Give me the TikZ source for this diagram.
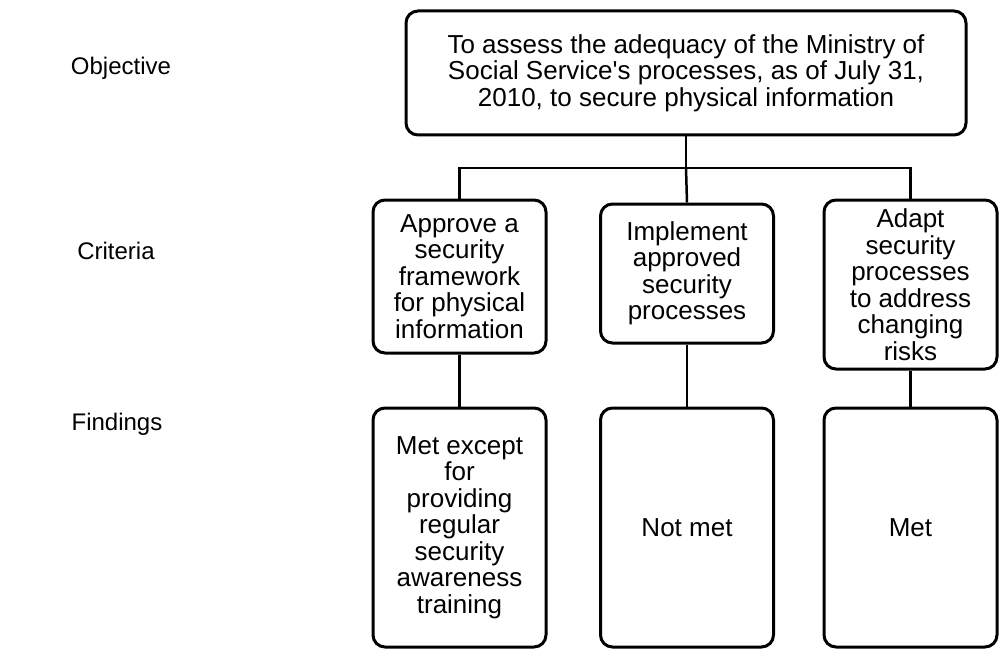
\documentclass[tikz,border=0pt]{standalone}
\usepackage{fontspec}
\setmainfont{Liberation Sans}
\usepackage{tikz}
\tikzset{
  boxnode/.style = {draw=black, line width=3pt, rounded corners=12pt,
    align=center, inner sep=0pt,
    font=\fontsize{26pt}{26.5pt}\selectfont},
  critnode/.style = {boxnode, minimum width=173pt},
  rowlabel/.style = {font=\fontsize{24pt}{26pt}\selectfont},
  link/.style = {line width=2.5pt}
}
\begin{document}
\begin{tikzpicture}[x=1pt,y=-1pt]
  \useasboundingbox (0,0) rectangle (1001,650);
  % row labels
  \node[rowlabel] (lobj) at (121,68) {Objective};
  \node[rowlabel] (lcrit) at (116,251) {Criteria};
  \node[rowlabel] (lfind) at (117,424) {Findings};
  % objective
  \node[boxnode, minimum width=560pt, minimum height=124pt] (obj) at (686,73)
    {To assess the adequacy of the Ministry of\\
     Social Service\textquotesingle s processes, as of July 31,\\
     2010, to secure physical information};
  % criteria
  \node[critnode, minimum height=153pt] (crit1) at (459.5,276.5)
    {Approve a\\ security\\ framework\\ for physical\\ information};
  \node[critnode, minimum height=139pt] (crit2) at (687,273.5)
    {Implement\\ approved\\ security\\ processes};
  \node[critnode, minimum height=169pt] (crit3) at (910.5,284.5)
    {Adapt\\ security\\ processes\\ to address\\ changing\\ risks};
  % findings
  \node[critnode, minimum height=239pt] (find1) at (459.5,527.5)
    {Met except\\ for\\ providing\\ regular\\ security\\ awareness\\ training};
  \node[critnode, minimum height=239pt] (find2) at (687,527.5) {Not met};
  \node[critnode, minimum height=239pt] (find3) at (910.5,527.5) {Met};
  % connectors
  \coordinate (bus) at (686,168);
  \draw[link] (obj.south) -- (bus);
  \draw[link] (crit1.north) |- (bus) -| (crit3.north);
  \draw[link] (bus) -- (crit2.north);
  \draw[link] (crit1.south) -- (find1.north);
  \draw[link] (crit2.south) -- (find2.north);
  \draw[link] (crit3.south) -- (find3.north);
\end{tikzpicture}
\end{document}
